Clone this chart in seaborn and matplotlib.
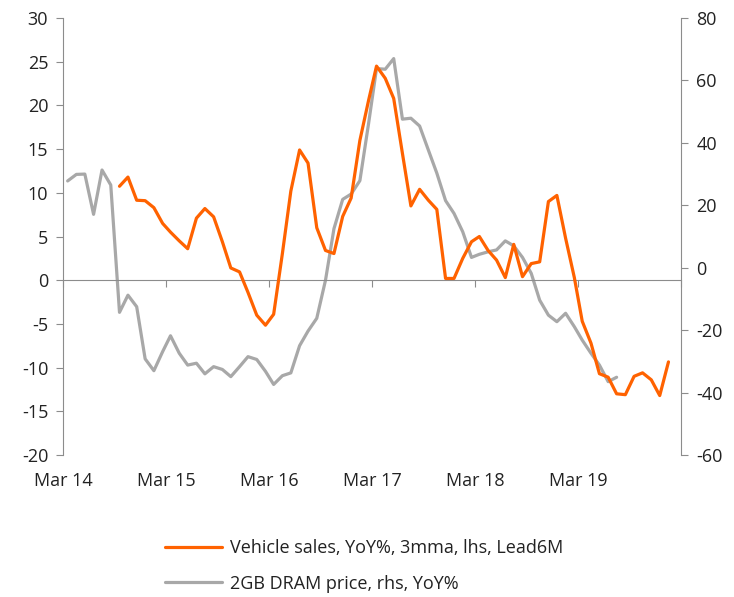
import numpy as np
import pandas as pd
import matplotlib
matplotlib.use('Agg')
import matplotlib.pyplot as plt
import seaborn as sns

# Data: monthly points, plotted mid-month
dram_start = '2014-03-01'
dram_yoy = [27.8, 29.9, 30.0, 17.1, 31.3, 26.5, -14.3, -8.8, -12.5, -29.2,
            -33.0, -26.9, -21.8, -27.4, -31.2, -30.6, -34.0, -31.7, -32.6, -34.9,
            -31.7, -28.5, -29.4, -33.2, -37.4, -34.6, -33.7, -25.0, -20.3, -16.2,
            -4.0, 12.5, 21.9, 23.6, 27.9, 46.3, 63.8, 63.6, 67.0, 47.6,
            47.9, 45.4, 37.7, 30.3, 21.5, 17.4, 11.5, 3.3, 4.3, 5.1,
            5.7, 8.6, 7.0, 3.3, -1.8, -10.4, -15.2, -17.3, -14.6, -18.9,
            -23.2, -27.4, -31.2, -36.5, -35.1]

vehicle_start = '2014-09-01'
vehicle_yoy = [10.75, 11.8, 9.15, 9.1, 8.3, 6.5, 5.5, 4.5, 3.6, 7.1,
               8.2, 7.25, 4.4, 1.4, 0.95, -1.4, -4.0, -5.15, -3.9, 3.05,
               10.2, 14.9, 13.4, 6.0, 3.4, 3.05, 7.3, 9.4, 16.0, 20.6,
               24.5, 23.1, 20.8, 14.5, 8.5, 10.4, 9.15, 8.1, 0.2, 0.2,
               2.5, 4.4, 5.0, 3.4, 2.3, 0.3, 4.1, 0.4, 1.9, 2.1,
               9.0, 9.7, 4.8, 0.3, -4.7, -7.2, -10.7, -11.1, -13.0, -13.1,
               -11.0, -10.6, -11.4, -13.2, -9.35]

vehicle_label = 'Vehicle sales, YoY%, 3mma, lhs, Lead6M'
dram_label = '2GB DRAM price, rhs, YoY%'

ORANGE = '#FF6200'
GRAY = '#A8A8A8'
AXIS = '#8C8C8C'
TEXT = '#222222'

sns.set_style('white')
plt.rcParams['font.family'] = ['Open Sans', 'DejaVu Sans']
plt.rcParams['font.size'] = 13
plt.rcParams['axes.unicode_minus'] = False

mid = pd.Timedelta(days=15)
df_dram = pd.DataFrame({
    'date': pd.date_range(dram_start, periods=len(dram_yoy), freq='MS') + mid,
    'value': dram_yoy})
df_veh = pd.DataFrame({
    'date': pd.date_range(vehicle_start, periods=len(vehicle_yoy), freq='MS') + mid,
    'value': vehicle_yoy})

fig = plt.figure(figsize=(7.34, 5.97), dpi=100)
ax = fig.add_axes([0.0864, 0.2379, 0.928 - 0.0864, 0.9698 - 0.2379])
ax2 = ax.twinx()

sns.lineplot(data=df_veh, x='date', y='value', ax=ax, color=ORANGE,
             lw=2.3, label=vehicle_label, legend=False)
sns.lineplot(data=df_dram, x='date', y='value', ax=ax2, color=GRAY,
             lw=2.3, label=dram_label, legend=False)
ax.set_zorder(ax2.get_zorder() + 1)
ax.patch.set_visible(False)

ax.set_xlim(pd.Timestamp('2014-03-01'), pd.Timestamp('2020-03-01'))
ax.set_ylim(-20, 30)
ax2.set_ylim(-60, 80)
ax.set_yticks(np.arange(-20, 31, 5))
ax2.set_yticks(np.arange(-60, 81, 20))

tick_dates = pd.date_range('2014-03-01', '2019-03-01', freq='12MS')
ax.set_xticks(tick_dates)
ax.set_xticklabels([d.strftime('%b %y') for d in tick_dates])
ax.set_xlabel('')
ax.set_ylabel('')
ax2.set_ylabel('')

for a in (ax, ax2):
    for s in a.spines.values():
        s.set_visible(False)
ax.spines['left'].set_visible(True)
ax.spines['left'].set_color(AXIS)
ax2.spines['right'].set_visible(True)
ax2.spines['right'].set_color(AXIS)

ax.tick_params(axis='x', length=0, pad=12, colors=TEXT, labelsize=13)
ax.tick_params(axis='y', left=True, direction='out', length=5, color=AXIS,
               labelcolor=TEXT, labelsize=13, pad=6)
ax2.tick_params(axis='y', right=True, direction='out', length=5, color=AXIS,
                labelcolor=TEXT, labelsize=13, pad=6)

# x axis line sits at zero on the left scale
sec = ax.secondary_xaxis(0.4)
sec.set_xticks(pd.date_range('2014-03-01', '2020-03-01', freq='12MS'))
sec.tick_params(axis='x', direction='out', length=5, color=AXIS, labelbottom=False)
sec.spines['bottom'].set_color(AXIS)

h1, l1 = ax.get_legend_handles_labels()
h2, l2 = ax2.get_legend_handles_labels()
fig.legend(h1 + h2, l1 + l2, loc='center left', bbox_to_anchor=(0.202, 0.052),
           frameon=False, fontsize=13, handlelength=3.2, handletextpad=0.45,
           labelspacing=0.95, labelcolor=TEXT)

fig.savefig('out.png', dpi=100)
